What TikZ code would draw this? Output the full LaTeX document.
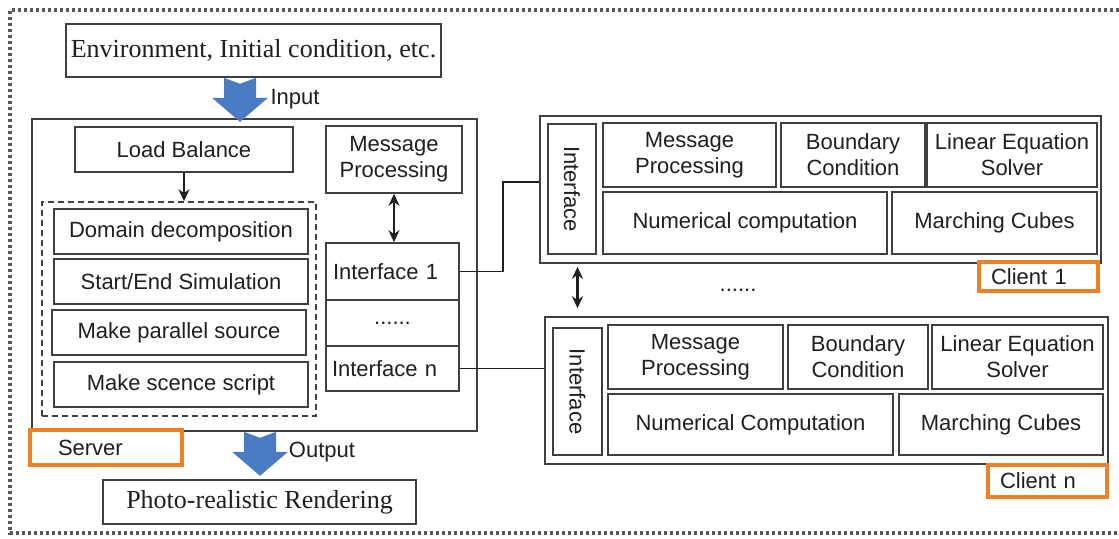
\documentclass[tikz,border=0pt]{standalone}
\usepackage{fontspec}
\setmainfont{Liberation Sans}
\newfontfamily\serifface{Liberation Serif}
\usetikzlibrary{arrows.meta}

\definecolor{arrowblue}{HTML}{4A7CC4}
\definecolor{tagorange}{HTML}{EE8025}
\definecolor{boxline}{HTML}{404040}

\tikzset{
  blockarrow/.pic={
    \fill[arrowblue] (-16,0) -- (0,6) -- (16,0) -- (16,20) -- (28,20)
      -- (0,44) -- (-28,20) -- (-16,20) -- cycle;
  }
}

\begin{document}
\begin{tikzpicture}[x=0.5pt, y=-0.5pt, >={Stealth[length=6pt,width=5.5pt]},
    font=\fontsize{11}{13}\selectfont, text=black!88,
    wh/.style 2 args={minimum width=#1*0.5pt, minimum height=#2*0.5pt},
    box/.style={draw=boxline, line width=0.8pt, inner sep=0pt, align=center},
    serifbox/.style={box, font=\serifface\fontsize{13}{15}\selectfont},
    tag/.style={draw=tagorange, line width=1.8pt, fill=white, inner ysep=0pt, align=left},
    wire/.style={draw=black!88, line width=0.8pt},
    frame/.style={draw=black!65, line width=1.6pt, dash pattern=on 1.6pt off 1.4pt}]
    \useasboundingbox (0,0) rectangle (1119,538);
    \draw[frame] (1119,10) -- (10,10) -- (10,533) -- (1119,533);

    % input and output
    \node[serifbox, wh={375}{53}] (env) at (253.5,50.5) {Environment, Initial condition, etc.};
    \node[serifbox, wh={313}{44}] (photo) at (259.5,502) {Photo-realistic Rendering};

    % server
    \node[box, wh={445}{312}] (server) at (254.5,275) {};
    \node[box, wh={218}{45}] (loadbal) at (184,149.5) {Load Balance};
    \node[draw=boxline, line width=0.8pt, dash pattern=on 3pt off 2pt, wh={274}{214}] (group) at (179,309) {};
    \node[box, wh={254}{45}] (domain) at (181,231.5) {Domain decomposition};
    \node[box, wh={254}{45}] (startend) at (181,281.5) {Start/End Simulation};
    \node[box, wh={254}{45}] (parsrc) at (179,332.5) {Make parallel source};
    \node[box, wh={254}{45}] (script) at (181,384.5) {Make scence script};
    \node[box, wh={136}{67}] (msgS) at (394,159.5) {Message\\Processing};
    \node[box, align=left, inner xsep=3.5pt, text width=59.5pt, wh={133}{57}] (if1) at (392.5,271.5) {Interface 1};
    \node[box, wh={133}{46}] (ifdots) at (392.5,323) {......};
    \node[box, align=left, inner xsep=3pt, text width=60.5pt, wh={133}{45}] (ifn) at (392.5,368.5) {Interface n};
    \node[tag, inner xsep=14pt, text width=48pt, wh={152}{35}] (serverlbl) at (106,447.5) {Server};

    \pic at ([xshift=-6.75pt]env.south) {blockarrow};
    \node (inlbl) at (295,99) {Input};
    \pic at ([xshift=2.75pt]server.south) {blockarrow};
    \node (outlbl) at (322,452) {Output};

    \draw[wire, ->] (loadbal.south) -- (loadbal.south |- group.north);
    \draw[wire, <->, line width=1pt] (msgS.south) -- (msgS.south |- if1.north);

    % client 1
    \node[box, wh={561}{147}] (c1) at (820.5,189.5) {};
    \node[box, rotate=-90, wh={130}{48}] (c1if) at (572,189) {Interface};
    \node[box, wh={173}{64}] (c1msg) at (689.5,155) {Message\\Processing};
    \node[box, wh={144}{64}] (c1bc) at (853,155) {Boundary\\Condition};
    \node[box, wh={170}{64}] (c1les) at (1012,155) {Linear Equation\\Solver};
    \node[box, wh={284}{62}] (c1num) at (745,223) {Numerical computation};
    \node[box, wh={205}{62}] (c1mc) at (994.5,223) {Marching Cubes};
    \node[tag, inner xsep=6pt, text width=47.5pt, wh={119}{29}] (c1lbl) at (1038.5,276.5) {Client 1};

    % client n
    \node[box, wh={563}{147}] (cn) at (826.5,390.5) {};
    \node[box, rotate=-90, wh={127}{49}] (cnif) at (577.5,391.5) {Interface};
    \node[box, wh={175}{64}] (cnmsg) at (695.5,357) {Message\\Processing};
    \node[box, wh={140}{64}] (cnbc) at (858,357) {Boundary\\Condition};
    \node[box, wh={171}{64}] (cnles) at (1017.5,357) {Linear Equation\\Solver};
    \node[box, wh={285}{61}] (cnnum) at (750.5,424.5) {Numerical Computation};
    \node[box, wh={204}{61}] (cnmc) at (1001,424.5) {Marching Cubes};
    \node[tag, inner xsep=6pt, text width=47.5pt, wh={119}{32}] (cnlbl) at (1047.5,481) {Client n};

    \node (clientdots) at (738,290) {......};

    % links between server and clients
    \draw[wire] (if1.east) -- ++(21.5pt,0) |- ([yshift=3.75pt]c1.west);
    \draw[wire] (ifn.east) -- (ifn.east -| cn.west);
    \draw[wire, <->, line width=1.2pt, shorten <=1.5pt, shorten >=4pt] (c1.south -| cnif) -- (cnif |- cn.north);
\end{tikzpicture}
\end{document}
